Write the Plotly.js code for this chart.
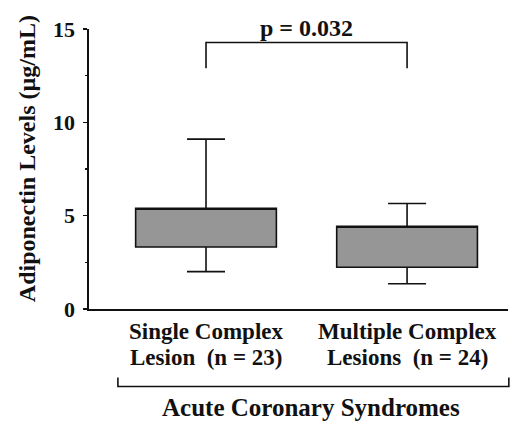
<!DOCTYPE html>
<html>
<head>
<meta charset="utf-8">
<script src="https://cdn.plot.ly/plotly-3.0.1.min.js"></script>
<style>html,body{margin:0;padding:0;background:#fff}#chart{width:516px;height:424px}</style>
</head>
<body>
<div id="chart"></div>
<script>
// ---- data ----
const groupPos = [0, 1];
const labelLine1 = ["Single Complex", "Multiple Complex"];
const labelLine2 = ["Lesion  (n = 23)", "Lesions  (n = 24)"];
const lowerWhisker = [2.0, 1.35];
const q1 = [3.32, 2.24];
const q3 = [5.4, 4.43];
const upperWhisker = [9.1, 5.65];
const yTicks = [0, 5, 10, 15];
const pText = "p = 0.032";
const groupTitle = "Acute Coronary Syndromes";
const yTitle = "Adiponectin Levels (µg/mL)";
const bracketTop = 14.28, bracketLeg = 12.9;

const serif = "Liberation Serif, Times New Roman, serif";
const bold = (size) => ({family: serif, size: size, color: "#111", weight: "bold"});

const trace = {
  type: "box",
  x: groupPos,
  q1: q1,
  median: q3,
  q3: q3,
  lowerfence: lowerWhisker,
  upperfence: upperWhisker,
  width: 0.70,
  whiskerwidth: 0.27,
  fillcolor: "#969696",
  line: {color: "#111", width: 1.6},
  boxpoints: false,
  hoverinfo: "skip",
  showlegend: false
};

const annotations = [];
groupPos.forEach((x, i) => {
  annotations.push({x: x, xref: "x", y: 0, yref: "paper", yshift: -22, yanchor: "middle",
    text: labelLine1[i], showarrow: false, font: bold(23)});
  annotations.push({x: x, xref: "x", y: 0, yref: "paper", yshift: -48, yanchor: "middle",
    text: labelLine2[i], showarrow: false, font: bold(23)});
});
annotations.push({x: 0.5, xref: "x", y: 1, yref: "paper", yshift: 1, yanchor: "middle",
  text: pText, showarrow: false, font: bold(24)});
annotations.push({x: 0.53, xref: "paper", y: 0, yref: "paper", yshift: -98, yanchor: "middle",
  text: groupTitle, showarrow: false, font: bold(25)});
annotations.push({x: 0, xref: "paper", xshift: -62, xanchor: "center", y: 0.535, yref: "paper", yanchor: "middle",
  textangle: -90, text: yTitle, showarrow: false, font: bold(24)});

const shapes = [
  {type: "path", xref: "x", yref: "y",
   path: `M ${groupPos[0]} ${bracketLeg} L ${groupPos[0]} ${bracketTop} L ${groupPos[1]} ${bracketTop} L ${groupPos[1]} ${bracketLeg}`,
   line: {color: "#111", width: 1.6}},
  {type: "path", xref: "paper", yref: "paper",
   path: "M 0.069 -0.245 L 0.069 -0.277 L 1.002 -0.277 L 1.002 -0.245",
   line: {color: "#111", width: 1.6}}
];

const layout = {
  width: 516, height: 424,
  margin: {l: 89, r: 8, t: 29, b: 115},
  paper_bgcolor: "#fff", plot_bgcolor: "#fff",
  font: {family: serif},
  showlegend: false,
  xaxis: {range: [-0.582, 1.502], showline: true, linecolor: "#111", linewidth: 1.6,
    showticklabels: false, ticks: "", showgrid: false, zeroline: false, fixedrange: true},
  yaxis: {range: [0, 15], tickvals: yTicks, ticktext: yTicks.map(String), ticks: "outside", ticklen: 4,
    tickwidth: 1.4, tickcolor: "#111", showline: true, linecolor: "#111", linewidth: 1.6,
    showgrid: false, zeroline: false, tickfont: bold(22), ticklabelstandoff: 4,
    minor: {dtick: 2.5, ticks: "outside", ticklen: 2, tickcolor: "#111", showgrid: false},
    fixedrange: true},
  annotations: annotations,
  shapes: shapes
};

Plotly.newPlot("chart", [trace], layout, {staticPlot: true, displayModeBar: false});
</script>
</body>
</html>
